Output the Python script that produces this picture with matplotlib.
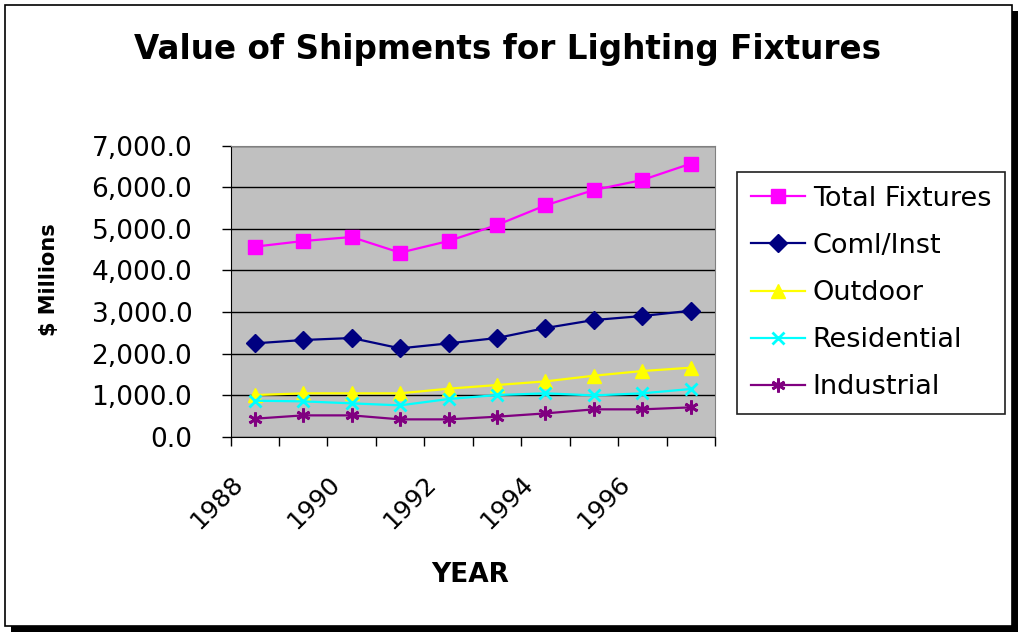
import numpy as np
import matplotlib
matplotlib.use('Agg')
import matplotlib.pyplot as plt
from matplotlib.patches import Rectangle
from matplotlib.transforms import ScaledTranslation

plt.rcParams['font.family'] = ['DejaVu Sans']

years = [1988, 1989, 1990, 1991, 1992, 1993, 1994, 1995, 1996, 1997]
series_names = ['Total Fixtures', 'Coml/Inst', 'Outdoor', 'Residential', 'Industrial']
total_fixtures = [4571, 4707, 4803, 4427, 4707, 5092, 5565, 5934, 6175, 6568]
coml_inst = [2245, 2326, 2374, 2125, 2245, 2374, 2614, 2807, 2903, 3031]
outdoor = [1002, 1043, 1043, 1043, 1155, 1243, 1331, 1467, 1580, 1660]
residential = [866, 850, 802, 754, 906, 1002, 1043, 994, 1043, 1147]
industrial = [433, 513, 513, 417, 417, 481, 561, 658, 658, 706]

colors = ['#FF00FF', '#000080', '#FFFF00', '#00FFFF', '#800080']
markers = ['s', 'D', '^', 'x', (6, 2, 0)]
msizes = [9.5, 9, 10, 9, 10]

W, H = 1018, 632
fig = plt.figure(figsize=[W/100., H/100.], dpi=100)

# chart frame with shadow
fig.patches.append(Rectangle((11./W, 0.), 1.0-11./W, 1.0-11./H, transform=fig.transFigure,
                             facecolor='black', edgecolor='none', zorder=-3))
fig.patches.append(Rectangle((5./W, 6./H), 1007./W, 621./H, transform=fig.transFigure,
                             facecolor='white', edgecolor='black', linewidth=1.2, zorder=-2))

ax = fig.add_axes([230.5/W, 1-436.7/H, 484.5/W, 291./H])
ax.set_facecolor('#C0C0C0')

data = [total_fixtures, coml_inst, outdoor, residential, industrial]
x = np.arange(len(years)) + 0.5
for i, vals in enumerate(data):
    ax.plot(x, vals, color=colors[i], marker=markers[i], markersize=msizes[i],
            markeredgewidth=2 if i >= 3 else 1,
            markeredgecolor=colors[i], linewidth=1.6, label=series_names[i], zorder=3)

ax.set_xlim(0, len(years))
ax.set_ylim(0, 7000)
ax.set_yticks(np.arange(0, 7001, 1000))
ax.set_yticklabels(['{:,.1f}'.format(v) for v in np.arange(0, 7001, 1000)], fontsize=19)
ax.yaxis.grid(True, color='black', linewidth=1.0)
ax.set_axisbelow(True)

ax.set_xticks(np.arange(0, len(years)+1))
xlabels = [str(years[0]+k) if k % 2 == 0 and k < len(years) else '' for k in range(len(years)+1)]
ax.set_xticklabels(xlabels, fontsize=18, rotation=45, ha='right', va='top', rotation_mode='anchor')
for lab in ax.get_xticklabels():
    lab.set_transform(lab.get_transform() + ScaledTranslation(-18/100., 0, fig.dpi_scale_trans))

ax.tick_params(axis='both', direction='out', length=6.5, width=1, color='black')
ax.tick_params(axis='x', pad=18.5)
ax.tick_params(axis='y', pad=21)

for s in ['top', 'right']:
    ax.spines[s].set_color('#808080')
for s in ['left', 'bottom']:
    ax.spines[s].set_color('black')

fig.text(508./W, 1-59.3/H, 'Value of Shipments for Lighting Fixtures', fontsize=23.5,
         fontweight='bold', ha='center', va='baseline')
fig.text(49./W, 1-280./H, '$ Millions', fontsize=15, fontweight='bold', rotation=90,
         ha='center', va='center')
fig.text(470./W, 1-581.7/H, 'YEAR', fontsize=19, fontweight='bold', ha='center', va='baseline')

leg = ax.legend(loc='upper left', bbox_to_anchor=(737./W, 1-172.3/H), bbox_transform=fig.transFigure,
                fontsize=19.5, frameon=True, fancybox=False, edgecolor='#202020', framealpha=1,
                handlelength=2.0, labelspacing=0.78, borderpad=0.5, handletextpad=0.3,
                borderaxespad=0)
leg.get_frame().set_linewidth(1.2)

plt.savefig('out.png', dpi=100)
plt.close()
